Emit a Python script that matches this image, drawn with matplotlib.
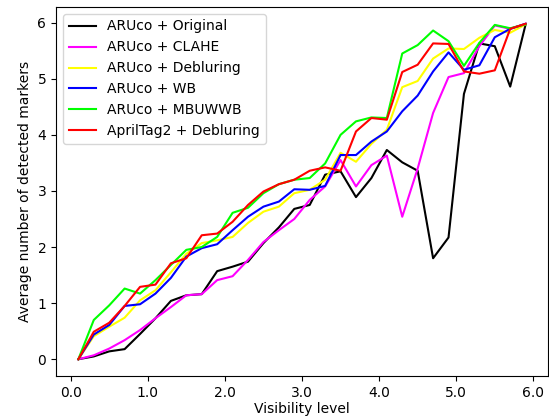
import matplotlib
matplotlib.use("Agg")
import matplotlib.pyplot as plt
from matplotlib.ticker import FormatStrFormatter

visibility = [0.1, 0.3, 0.5, 0.7, 0.9, 1.1, 1.3, 1.5, 1.7, 1.9, 2.1, 2.3, 2.5, 2.7, 2.9,
              3.1, 3.3, 3.5, 3.7, 3.9, 4.1, 4.3, 4.5, 4.7, 4.9, 5.1, 5.3, 5.5, 5.7, 5.9]

original = [0.0, 0.05, 0.14, 0.18, 0.45, 0.73, 1.04, 1.14, 1.16, 1.57, 1.65, 1.74, 2.07, 2.35, 2.68,
            2.75, 3.29, 3.35, 2.89, 3.23, 3.73, 3.51, 3.36, 1.80, 2.17, 4.73, 5.63, 5.58, 4.86, 5.97]
clahe = [0.0, 0.07, 0.19, 0.34, 0.52, 0.73, 0.93, 1.14, 1.16, 1.41, 1.48, 1.77, 2.09, 2.30, 2.50,
         2.84, 3.08, 3.55, 3.08, 3.46, 3.63, 2.54, 3.40, 4.39, 5.03, 5.10, 5.58, 5.95, 5.89, 5.98]
debluring = [0.0, 0.41, 0.58, 0.74, 1.05, 1.23, 1.55, 1.88, 2.07, 2.12, 2.18, 2.43, 2.63, 2.72, 2.96,
             3.02, 3.20, 3.68, 3.52, 3.84, 4.09, 4.85, 4.96, 5.36, 5.54, 5.53, 5.73, 5.87, 5.82, 5.97]
wb = [0.0, 0.44, 0.61, 0.95, 0.98, 1.17, 1.45, 1.83, 1.98, 2.05, 2.30, 2.54, 2.72, 2.81, 3.03,
      3.02, 3.09, 3.64, 3.64, 3.88, 4.06, 4.42, 4.70, 5.13, 5.47, 5.16, 5.24, 5.74, 5.89, 5.98]
mbuwwb = [0.0, 0.70, 0.96, 1.26, 1.17, 1.41, 1.68, 1.95, 2.00, 2.18, 2.61, 2.70, 2.96, 3.12, 3.20,
          3.23, 3.49, 4.00, 4.24, 4.31, 4.30, 5.45, 5.60, 5.86, 5.67, 5.23, 5.64, 5.96, 5.90, 5.97]
apriltag = [0.0, 0.49, 0.65, 0.95, 1.29, 1.33, 1.71, 1.80, 2.21, 2.24, 2.45, 2.75, 2.99, 3.12, 3.20,
            3.36, 3.42, 3.36, 4.06, 4.30, 4.27, 5.12, 5.25, 5.63, 5.62, 5.13, 5.09, 5.15, 5.89, 5.98]

series = [
    ("ARUco + Original", original, "black"),
    ("ARUco + CLAHE", clahe, "magenta"),
    ("ARUco + Debluring", debluring, "yellow"),
    ("ARUco + WB", wb, "blue"),
    ("ARUco + MBUWWB", mbuwwb, "lime"),
    ("AprilTag2 + Debluring", apriltag, "red"),
]

xticks = [0.0, 1.0, 2.0, 3.0, 4.0, 5.0, 6.0]
yticks = [0, 1, 2, 3, 4, 5, 6]

fig = plt.figure(figsize=(5.49, 4.17), dpi=100)
ax = fig.add_axes([56 / 549, 41 / 417, 492 / 549, 369 / 417])
for label, vals, color in series:
    ax.plot(visibility, vals, color=color, label=label, linewidth=1.5)

ax.set_xticks(xticks)
ax.set_yticks(yticks)
ax.xaxis.set_major_formatter(FormatStrFormatter('%.1f'))
ax.set_xlabel("Visibility level", labelpad=1.5)
ax.set_ylabel("Average number of detected markers")
ax.legend(loc="upper left")
fig.savefig("out.png", dpi=100)
